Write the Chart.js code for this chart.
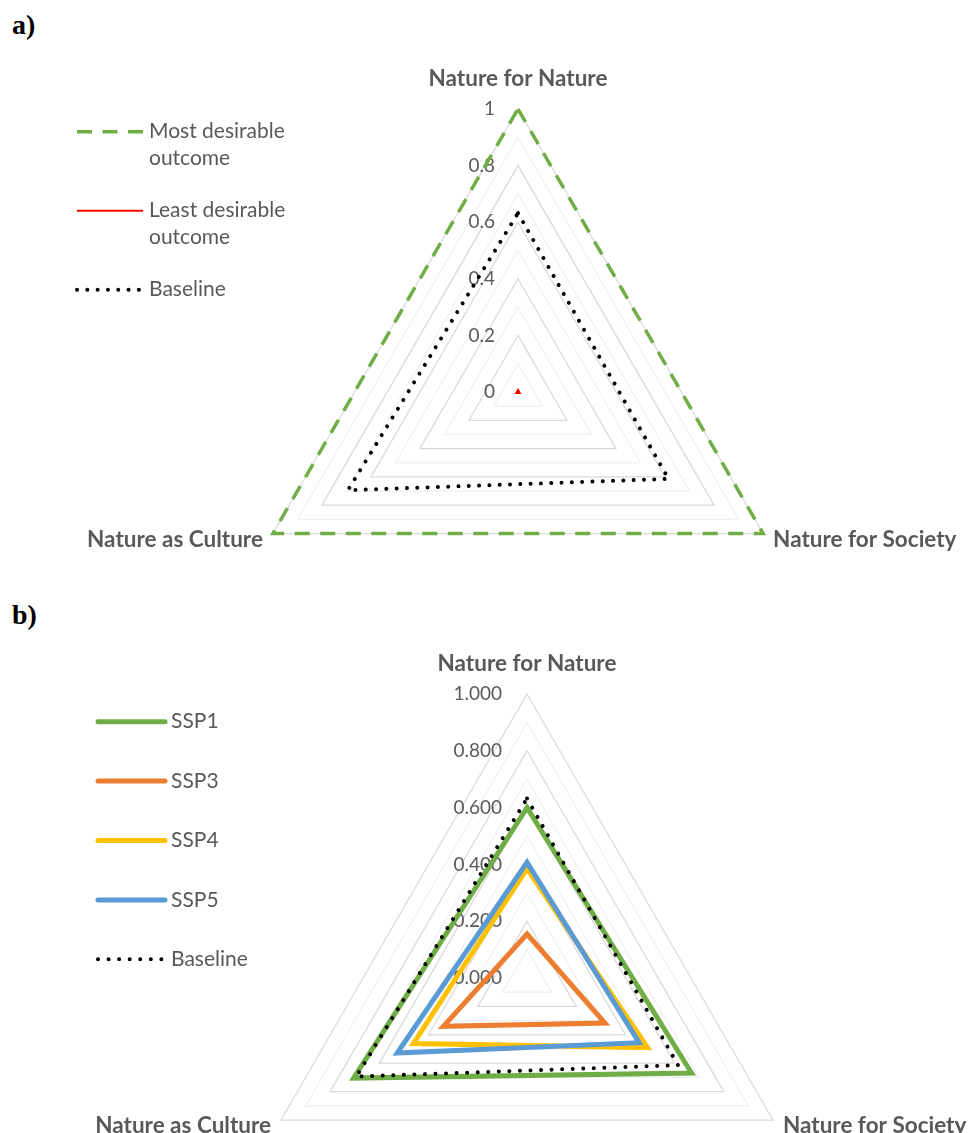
<!DOCTYPE html>
<html>
<head>
<meta charset="utf-8">
<title>Nature Futures radar charts</title>
<script src="https://cdn.jsdelivr.net/npm/chart.js@4.4.1/dist/chart.umd.min.js"></script>
<style>
  html, body { margin: 0; padding: 0; background: #fff; overflow: hidden; width: 973px; height: 1133px; }
  #page { position: relative; width: 973px; height: 1133px; overflow: hidden; }
  canvas { position: absolute; left: 0; }
  .tag { position: absolute; left: 12px; margin: 0; line-height: 1;
         font-family: "Liberation Serif", "Times New Roman", serif; font-weight: bold; font-size: 28px; color: #000; }
</style>
</head>
<body>
<div id="page">
  <div class="tag" style="top:11px">a)</div>
  <div class="tag" style="top:601px">b)</div>
  <canvas id="chartA" width="973" height="680" style="top:0"></canvas>
  <canvas id="chartB" width="973" height="674" style="top:590px"></canvas>
</div>
<script>
// Axes of the triangle (clockwise from the top)
const axes = ['Nature for Nature', 'Nature for Society', 'Nature as Culture'];

// Panel a) reference outcomes
const mostDesirable  = [1, 1, 1];
const leastDesirable = [0.007, 0.007, 0.007];
const baseline       = [0.632, 0.614, 0.694];

// Panel b) scenario results
const ssp1 = [0.600, 0.669, 0.705];
const ssp3 = [0.155, 0.317, 0.340];
const ssp4 = [0.385, 0.490, 0.462];
const ssp5 = [0.407, 0.456, 0.528];

// Radial tick labels
const tickLabelsA = ['0', '0.2', '0.4', '0.6', '0.8', '1'];
const tickLabelsB = ['0.000', '0.200', '0.400', '0.600', '0.800', '1.000'];

const FONT = 'Lato, "Open Sans", sans-serif';
const GREY = '#595959';

function wrapText(ctx, text, maxWidth) {
  const words = text.split(' ');
  const lines = [];
  let cur = '';
  words.forEach(w => {
    const test = cur ? cur + ' ' + w : w;
    if (cur && ctx.measureText(test).width > maxWidth) { lines.push(cur); cur = w; }
    else cur = test;
  });
  if (cur) lines.push(cur);
  return lines;
}

// Draws the tick labels beside the vertical axis, the axis titles and the legend
const radarDecor = {
  id: 'radarDecor',
  beforeDatasetsDraw(chart, args, opts) {
    const s = chart.scales.r, ctx = chart.ctx;
    ctx.save();
    ctx.font = `${opts.tickSize}px ${FONT}`;
    ctx.fillStyle = GREY;
    ctx.textAlign = 'right';
    ctx.textBaseline = 'middle';
    opts.tickLabels.forEach(t => {
      const d = s.getDistanceFromCenterForValue(parseFloat(t));
      ctx.fillText(t, s.xCenter - opts.tickOffset, s.yCenter - d);
    });
    ctx.restore();
  },
  afterDraw(chart, args, opts) {
    const s = chart.scales.r, ctx = chart.ctx;
    ctx.save();
    ctx.font = `bold ${opts.titleSize}px ${FONT}`;
    ctx.fillStyle = GREY;
    ctx.textBaseline = 'middle';
    chart.data.labels.forEach((lab, i) => {
      const p = s.getPointPosition(i, s.drawingArea);
      if (i === 0) {
        ctx.textAlign = 'center';
        ctx.fillText(lab, p.x, p.y - 30);
      } else if (p.x > s.xCenter) {
        ctx.textAlign = 'left';
        ctx.fillText(lab, p.x + 10, p.y + 6);
      } else {
        ctx.textAlign = 'right';
        ctx.fillText(lab, p.x - 10, p.y + 6);
      }
    });

    // legend
    const L = opts.legend;
    ctx.font = `${opts.legendSize}px ${FONT}`;
    ctx.textAlign = 'left';
    let y = L.y;
    chart.data.datasets.forEach(ds => {
      const lines = wrapText(ctx, ds.label, L.maxWidth);
      ctx.save();
      ctx.strokeStyle = ds.borderColor;
      ctx.lineWidth = ds.borderWidth;
      ctx.setLineDash(ds.borderDash || []);
      ctx.lineCap = ds.borderCapStyle || 'butt';
      ctx.beginPath();
      ctx.moveTo(L.x0, y);
      ctx.lineTo(L.x1, y);
      ctx.stroke();
      ctx.restore();
      lines.forEach((ln, k) => ctx.fillText(ln, L.x1 + 6, y + k * L.lineH));
      y += lines.length * L.lineH + L.gap;
    });
    ctx.restore();
  }
};

function radarOptions(padding, tickLabels, tickOffset, legend) {
  return {
    responsive: false,
    animation: false,
    events: [],
    layout: { padding },
    elements: {
      point: { radius: 0, hoverRadius: 0 },
      line: { tension: 0, fill: false, borderJoinStyle: 'miter' }
    },
    plugins: {
      legend: { display: false },
      tooltip: { enabled: false },
      radarDecor: { tickLabels, tickOffset, legend, tickSize: 19, legendSize: 21, titleSize: 22.5 }
    },
    scales: {
      r: {
        min: 0,
        max: 1,
        startAngle: 0,
        ticks: { display: false, stepSize: 0.1 },
        angleLines: { display: false },
        pointLabels: { display: false },
        grid: {
          lineWidth: 1.25,
          color: c => (Math.round(c.tick.value * 10) % 2 === 0 ? '#d9d9d9' : '#f0f0f0')
        }
      }
    }
  };
}

const dotted = { borderColor: '#000000', borderWidth: 4, borderDash: [0.01, 10.3], borderCapStyle: 'round' };

function build() {
  new Chart(document.getElementById('chartA'), {
    type: 'radar',
    data: {
      labels: axes,
      datasets: [
        { label: 'Most desirable outcome', data: mostDesirable, borderColor: '#70ad47', borderWidth: 3.5,
          borderDash: [15, 10.5], borderCapStyle: 'butt', clip: false, order: 3 },
        { label: 'Least desirable outcome', data: leastDesirable, borderColor: '#ff0000', borderWidth: 2,
          borderCapStyle: 'butt', clip: false, order: 2 },
        Object.assign({ label: 'Baseline', data: baseline, clip: false, order: 1 }, dotted)
      ]
    },
    options: radarOptions({ left: 235, top: 109, right: 172, bottom: 5 }, tickLabelsA, 23,
      { x0: 77, x1: 143, y: 131.7, lineH: 26.5, gap: 26, maxWidth: 150 }),
    plugins: [radarDecor]
  });

  new Chart(document.getElementById('chartB'), {
    type: 'radar',
    data: {
      labels: axes,
      datasets: [
        { label: 'SSP1', data: ssp1, borderColor: '#70ad47', borderWidth: 5, borderCapStyle: 'round', clip: false, order: 5 },
        { label: 'SSP3', data: ssp3, borderColor: '#ed7d31', borderWidth: 5, borderCapStyle: 'round', clip: false, order: 4 },
        { label: 'SSP4', data: ssp4, borderColor: '#ffc000', borderWidth: 5, borderCapStyle: 'round', clip: false, order: 3 },
        { label: 'SSP5', data: ssp5, borderColor: '#5b9bd5', borderWidth: 5, borderCapStyle: 'round', clip: false, order: 2 },
        Object.assign({ label: 'Baseline', data: baseline, clip: false, order: 1 }, dotted, { borderDash: [0.01, 10.55] })
      ]
    },
    options: radarOptions({ left: 243, top: 104, right: 162, bottom: 2 }, tickLabelsB, 25,
      { x0: 98, x1: 165, y: 131.7, lineH: 26.5, gap: 32.9, maxWidth: 150 }),
    plugins: [radarDecor]
  });
}

if (document.fonts && document.fonts.ready) document.fonts.ready.then(build); else build();
</script>
</body>
</html>
